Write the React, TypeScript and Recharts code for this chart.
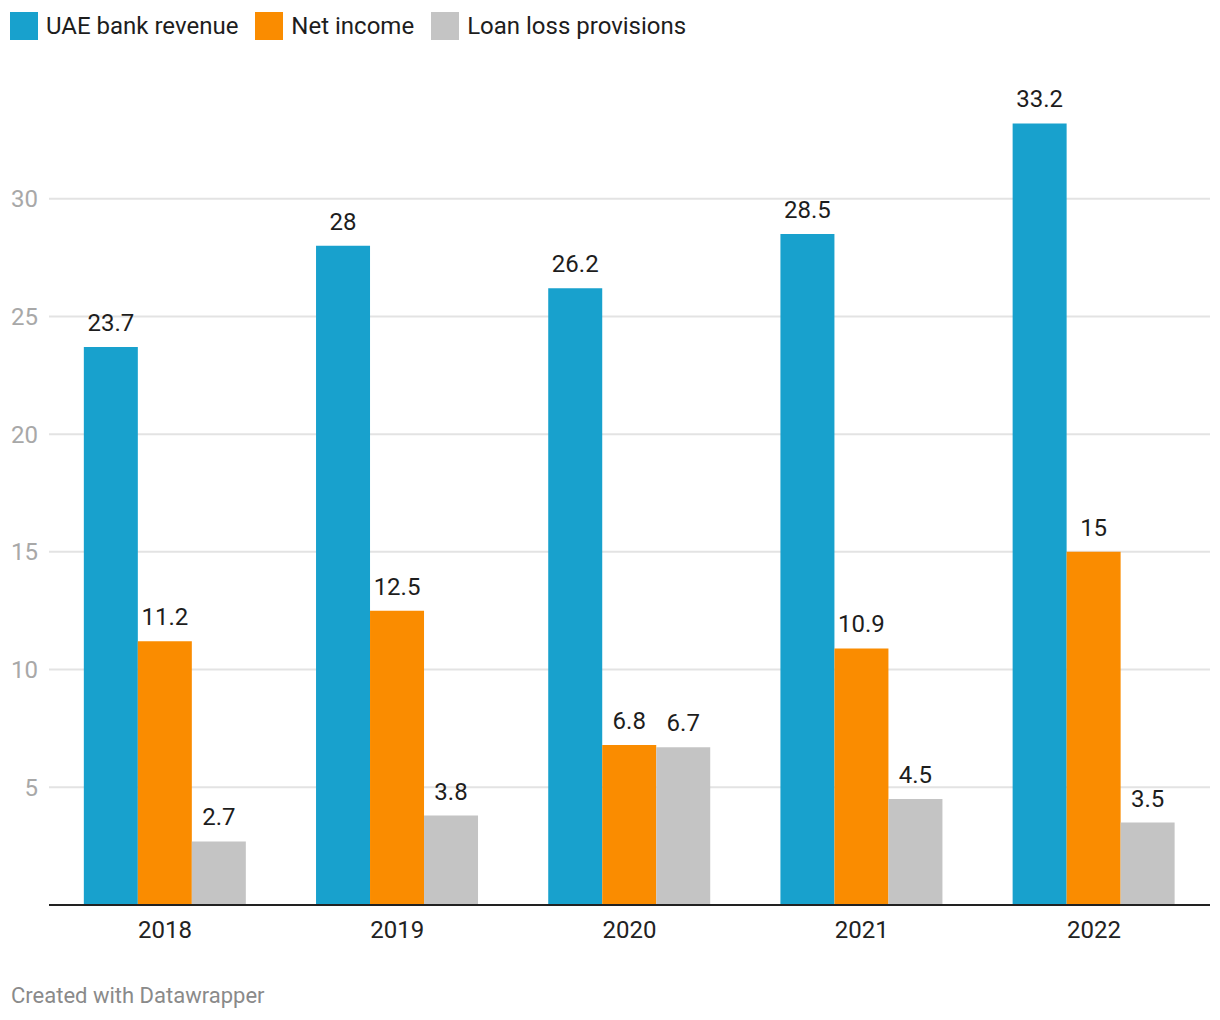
import { BarChart, Bar, XAxis, YAxis, CartesianGrid, LabelList } from 'recharts'

const years = ['2018', '2019', '2020', '2021', '2022']
const revenue = [23.7, 28, 26.2, 28.5, 33.2]
const netIncome = [11.2, 12.5, 6.8, 10.9, 15]
const provisions = [2.7, 3.8, 6.7, 4.5, 3.5]
const yTicks = [5, 10, 15, 20, 25, 30]

const series = [
  { key: 'revenue', name: 'UAE bank revenue', color: '#18a1cd' },
  { key: 'netIncome', name: 'Net income', color: '#fa8c00' },
  { key: 'provisions', name: 'Loan loss provisions', color: '#c4c4c4' },
]

const data = years.map((year, i) => ({
  year,
  revenue: revenue[i],
  netIncome: netIncome[i],
  provisions: provisions[i],
}))

const font = 'Roboto, "Noto Sans", sans-serif'

export default function App() {
  return (
    <div style={{ position: 'absolute', left: 0, top: 0, width: 1220, height: 1020, background: '#fff', fontFamily: font }}>
      <div style={{ position: 'absolute', left: 10, top: 12, display: 'flex', alignItems: 'center', fontSize: 24, color: '#1d1d1d' }}>
        {series.map(s => (
          <div key={s.key} style={{ display: 'flex', alignItems: 'center', marginRight: 17 }}>
            <span style={{ width: 28, height: 28, background: s.color, display: 'inline-block', marginRight: 8 }} />
            <span style={{ lineHeight: '28px' }}>{s.name}</span>
          </div>
        ))}
      </div>
      <div style={{ position: 'absolute', left: 0, top: 0 }}>
        <BarChart width={1220} height={960} data={data} margin={{ top: 81, right: 10, bottom: 15, left: 0 }} barGap={0} barCategoryGap="15%">
          <CartesianGrid vertical={false} stroke="#e3e3e3" strokeWidth={2} horizontalValues={yTicks} />
          <XAxis dataKey="year" tickLine={false} tickSize={0} tickMargin={16} height={40}
            axisLine={{ stroke: '#222', strokeWidth: 2 }}
            tick={{ fill: '#222', fontSize: 24, fontFamily: font }} />
          <YAxis width={49} domain={[0, 35]} ticks={yTicks} axisLine={false} tickLine={false} tickSize={0} tickMargin={11}
            tick={{ fill: '#a8a8a8', fontSize: 24, fontFamily: font }} />
          {series.map(s => (
            <Bar key={s.key} dataKey={s.key} name={s.name} fill={s.color} isAnimationActive={false}>
              <LabelList dataKey={s.key} position="top" offset={16} fill="#1d1d1d" fontSize={24} fontFamily={font} />
            </Bar>
          ))}
        </BarChart>
      </div>
      <div style={{ position: 'absolute', left: 11, top: 983, fontSize: 22, color: '#8a8a8a' }}>Created with Datawrapper</div>
    </div>
  )
}
